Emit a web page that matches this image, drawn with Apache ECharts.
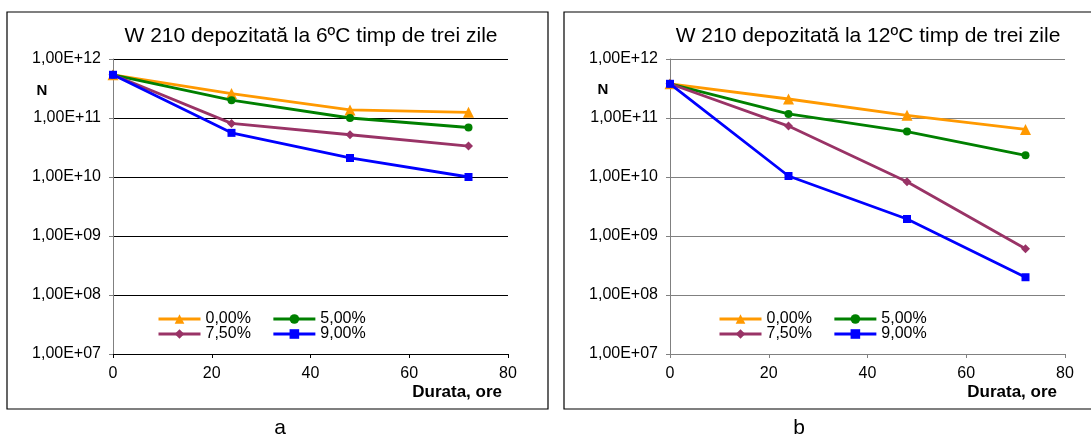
<!DOCTYPE html>
<html>
<head>
<meta charset="utf-8">
<script src="https://cdn.jsdelivr.net/npm/echarts@6/dist/echarts.min.js"></script>
<style>
  html, body { margin: 0; padding: 0; background: #fff; }
  #main { width: 1091px; height: 437px; }
</style>
</head>
<body>
<div id="main"></div>
<script>
(function () {
    'use strict';

    // durata (ore)
    var hours = [0, 24, 48, 72];
    var seriesNames = ['0,00%', '5,00%', '7,50%', '9,00%'];

    // a: W 210 la 6ºC
    var a0 = [5.4e11, 2.6e11, 1.37e11, 1.25e11];
    var a5 = [5.4e11, 2.0e11, 1.0e11, 6.9e10];
    var a75 = [5.4e11, 8.1e10, 5.2e10, 3.35e10];
    var a9 = [5.4e11, 5.6e10, 2.1e10, 1.0e10];

    // b: W 210 la 12ºC
    var b0 = [3.8e11, 2.1e11, 1.11e11, 6.4e10];
    var b5 = [3.8e11, 1.17e11, 5.9e10, 2.33e10];
    var b75 = [3.8e11, 7.3e10, 8.3e9, 6.1e8];
    var b9 = [3.8e11, 1.04e10, 1.94e9, 2.0e8];

    var titles = ['W 210 depozitată la 6ºC timp de trei zile', 'W 210 depozitată la 12ºC timp de trei zile'];

    var colors = ['#FF9900', '#008000', '#993366', '#0000FF'];
    var symbols = ['triangle', 'circle', 'diamond', 'rect'];
    var symbolSizes = [11, 8, 9, 8];
    var font = 'Liberation Sans, Arial, sans-serif';

    function pair(vals) {
        return hours.map(function (h, i) { return [h, vals[i]]; });
    }

    function expLabel(v) {
        var e = Math.round(Math.log(v) / Math.LN10);
        return '1,00E+' + (e < 10 ? '0' + e : e);
    }

    var dom = document.getElementById('main');
    var myChart = echarts.init(dom);

    var grids = [
        { left: 113, top: 59, width: 395, height: 295 },
        { left: 670, top: 59, width: 395, height: 295 }
    ];
    var gridColor = ['#000000', '#808080'];
    var xLineColor = ['#000000', '#808080'];

    var xAxes = [], yAxes = [];
    [0, 1].forEach(function (k) {
        xAxes.push({
            type: 'value', gridIndex: k, min: 0, max: 80, interval: 20,
            axisLine: { lineStyle: { color: xLineColor[k], width: 1 } },
            axisTick: { length: 4, lineStyle: { color: xLineColor[k] } },
            axisLabel: { color: '#000', fontSize: 16, fontFamily: font, margin: 12 },
            splitLine: { show: false }
        });
        yAxes.push({
            type: 'log', logBase: 10, gridIndex: k, min: 1e7, max: 1e12,
            axisLine: { show: true, lineStyle: { color: '#808080', width: 1 } },
            axisTick: { show: true, length: 4, lineStyle: { color: '#808080' } },
            axisLabel: { color: '#000', fontSize: 16, fontFamily: font, margin: 12, formatter: expLabel },
            splitLine: { show: true, lineStyle: { color: gridColor[k], width: 1 } },
            minorTick: { show: false }
        });
    });

    var dataSets = [[a0, a5, a75, a9], [b0, b5, b75, b9]];
    var series = [];
    [0, 1].forEach(function (k) {
        dataSets[k].forEach(function (vals, i) {
            series.push({
                name: seriesNames[i],
                type: 'line',
                xAxisIndex: k,
                yAxisIndex: k,
                data: pair(vals),
                symbol: symbols[i],
                symbolSize: symbolSizes[i],
                showAllSymbol: true,
                color: colors[i],
                lineStyle: { color: colors[i], width: 2.8 },
                itemStyle: { color: colors[i] },
                z: 2 + i,
                animation: false
            });
        });
    });

    function legendRow(left, top, names) {
        return {
            left: left, top: top, orient: 'horizontal', padding: 0,
            itemWidth: 42, itemHeight: 12, itemGap: 21,
            selectedMode: false,
            lineStyle: { width: 3 },
            textStyle: { color: '#000', fontSize: 16, fontFamily: font, lineHeight: 15 },
            data: names
        };
    }

    function text(x, y, str, size, bold, align) {
        return {
            type: 'text', x: x, y: y, silent: true,
            style: {
                text: str, fill: '#000', fontSize: size, fontFamily: font,
                fontWeight: bold ? 'bold' : 'normal',
                align: align || 'center', verticalAlign: 'middle'
            }
        };
    }

    var option = {
        backgroundColor: '#fff',
        animation: false,
        title: [
            { text: titles[0], left: 311, top: 26, textAlign: 'center', padding: 0,
              textStyle: { color: '#000', fontSize: 21, fontWeight: 'normal', fontFamily: font } },
            { text: titles[1], left: 868, top: 26, textAlign: 'center', padding: 0,
              textStyle: { color: '#000', fontSize: 21, fontWeight: 'normal', fontFamily: font } }
        ],
        legend: [
            legendRow(157, 311, ['0,00%', '5,00%']),
            legendRow(157, 326, ['7,50%', '9,00%']),
            legendRow(718, 311, ['0,00%', '5,00%']),
            legendRow(718, 326, ['7,50%', '9,00%'])
        ],
        grid: grids,
        xAxis: xAxes,
        yAxis: yAxes,
        series: series,
        graphic: [
            { type: 'rect', shape: { x: 7, y: 12, width: 541, height: 397 }, silent: true, z: -10,
              style: { fill: 'none', stroke: '#000', lineWidth: 1.2 } },
            { type: 'rect', shape: { x: 564, y: 12, width: 540, height: 397 }, silent: true, z: -10,
              style: { fill: 'none', stroke: '#000', lineWidth: 1.2 } },
            text(42, 91, 'N', 15, true),
            text(603, 90, 'N', 15, true),
            text(502, 392, 'Durata, ore', 17, true, 'right'),
            text(1057, 392, 'Durata, ore', 17, true, 'right'),
            text(280, 428, 'a', 21, false),
            text(799, 428, 'b', 21, false)
        ]
    };

    myChart.setOption(option, true);
}());
</script>
</body>
</html>
